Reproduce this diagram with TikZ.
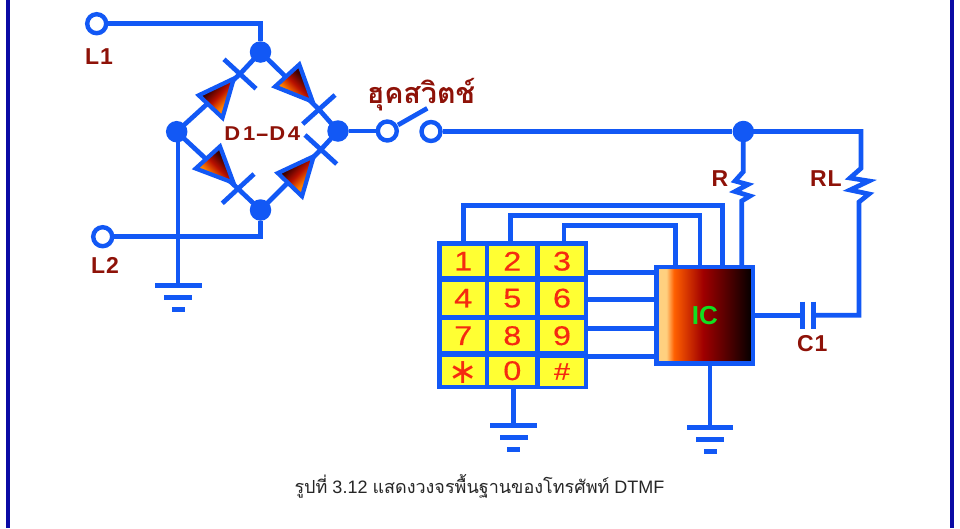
\documentclass[tikz,border=0pt]{standalone}
\usepackage{fontspec}
\setmainfont{Liberation Sans}
\newfontfamily\thaifont[Script=Thai]{Loma}
\newfontfamily\dejavu{DejaVu Sans}
\newfontfamily\keyfont[FakeStretch=1.2,FakeBold=0.4]{Liberation Sans}
\newfontfamily\dlabel[FakeStretch=1.1,LetterSpace=14]{Liberation Sans}
\newfontfamily\labfont[LetterSpace=4]{Liberation Sans}
\usetikzlibrary{calc}
\definecolor{wire}{HTML}{1258F5}
\definecolor{lbl}{HTML}{8E1208}
\definecolor{keyy}{HTML}{FFFF33}
\definecolor{keyt}{HTML}{F52A10}
\definecolor{frameblue}{HTML}{0A0AA5}
\definecolor{icA}{HTML}{FFD080}
\definecolor{icB}{HTML}{FF6000}
\definecolor{icC}{HTML}{A00000}
\definecolor{icD}{HTML}{500000}
\definecolor{icE}{HTML}{000000}
\definecolor{icT}{HTML}{10E020}
\definecolor{dioA}{HTML}{3C0000}
\definecolor{dioB}{HTML}{B81000}
\definecolor{dioC}{HTML}{FF8000}
\pgfdeclarehorizontalshading{icgrad}{100bp}{color(0bp)=(icA); color(25bp)=(icA); color(30bp)=(icA); color(34bp)=(icB); color(49bp)=(icC); color(62bp)=(icD); color(75bp)=(icE); color(100bp)=(icE)}
\pgfdeclareverticalshading{diograd}{100bp}{color(0bp)=(dioC); color(36bp)=(dioC); color(50bp)=(dioB); color(64bp)=(dioA); color(100bp)=(dioA)}
\tikzset{x=1pt,y=-1pt,
 wirel/.style={draw=wire,line width=4.7pt,line join=miter},
 dotn/.style={circle,fill=wire,inner sep=0pt,minimum size=21.5pt},
 term/.style={circle,draw=wire,line width=4.4pt,fill=white,inner sep=0pt,minimum size=19pt},
 lab/.style={text=lbl,font=\labfont\bfseries\fontsize{23}{23}\selectfont,inner sep=0pt},
 keybox/.style={fill=keyy,text=keyt,inner sep=0pt,font=\keyfont\fontsize{27}{27}\selectfont},
 diobody/.style={draw=wire,line width=4.2pt,line join=miter,shading=diograd}}
\newcommand{\gndsym}[2]{%
 \fill[wire] (#1-23.3,#2-2.5) rectangle (#1+23.3,#2+2.5);
 \fill[wire] (#1-14,#2+9.5) rectangle (#1+14,#2+14.5);
 \fill[wire] (#1-6.5,#2+21.5) rectangle (#1+6.5,#2+26.5);}
\begin{document}
\begin{tikzpicture}
\useasboundingbox (0,0) rectangle (960,528);
\fill[white] (0,0) rectangle (960,528);
\fill[frameblue] (6,0) rectangle (10,528);
\fill[frameblue] (950,0) rectangle (954,528);
% nodes of the bridge
\node[dotn] (top) at (260.5,52) {};
\node[dotn] (bot) at (260.5,210) {};
\node[dotn] (lft) at (176.7,131.7) {};
\node[dotn] (rgt) at (338,131) {};
\node[dotn] (jr) at (743.3,131.5) {};
\coordinate (c1) at (240,74);
\coordinate (c2) at (319,109.5);
\coordinate (c3) at (238,188.7);
\coordinate (c4) at (321,149.5);
\coordinate (gl) at (178,285);
\coordinate (gk) at (513.7,425.7);
\coordinate (gi) at (710,427.3);
% terminals
\node[term] (l1) at (96.7,23.7) {};
\node[term] (l2) at (102.7,236.7) {};
\node[term] (s1) at (387.3,131) {};
\node[term] (s2) at (431,131.5) {};
% IC
\node[draw=wire,line width=4.7pt,shading=icgrad,minimum width=96.3pt,minimum height=96.7pt,inner sep=0pt,text=icT,font=\bfseries\fontsize{26}{26}\selectfont] (ic) at (704.8,315.3) {IC};
% keypad
\node[fill=wire,inner sep=0pt,outer sep=-1pt,minimum width=151.6pt,minimum height=148.6pt] (kp) at (512.5,315) {};
\node[keybox,minimum width=43pt,minimum height=30.3pt] (k1) at (463.2,261.2) {1};
\node[keybox,minimum width=46pt,minimum height=30.3pt] (k2) at (512.3,261.2) {2};
\node[keybox,minimum width=43.4pt,minimum height=30.3pt] (k3) at (562,261.2) {3};
\node[keybox,minimum width=43pt,minimum height=33pt] (k4) at (463.2,298.2) {4};
\node[keybox,minimum width=46pt,minimum height=33pt] (k5) at (512.3,298.2) {5};
\node[keybox,minimum width=43.4pt,minimum height=33pt] (k6) at (562,298.2) {6};
\node[keybox,minimum width=43pt,minimum height=31.3pt] (k7) at (463.2,335.7) {7};
\node[keybox,minimum width=46pt,minimum height=31.3pt] (k8) at (512.3,335.7) {8};
\node[keybox,minimum width=43.4pt,minimum height=31.3pt] (k9) at (562,335.7) {9};
\node[keybox,minimum width=43pt,minimum height=28pt] (ks) at (463.2,370.7) {};
\node[keybox,minimum width=46pt,minimum height=28pt] (k0) at (512.3,370.7) {0};
\node[keybox,minimum width=43.4pt,minimum height=28pt] (kh) at (562,371.5) {\fontsize{24}{24}\selectfont\#};
\node[text=keyt,inner sep=0pt,font=\dejavu\fontsize{35}{35}\selectfont] (kst) at (463.5,372.5) {∗};
% wires
\draw[wirel] (l1) -- (260.5,23.7) -- (top);
\draw[wirel] (l2) -- (260.5,236.7) -- (bot);
\draw[wirel] (178,131.7) -- (gl);
\draw[wirel] (rgt) -- (s1);
\draw[wirel] (s2) -- (jr);
\draw[wirel] (jr.center) -- (861,131.5) -- (861,168.3) -- (850,178) -- (869,181) -- (850,190) -- (869,194) -- (859,202) -- (859,315.3) -- (813.7,315.3);
\draw[wirel] (ic.east) -- (802.7,315.3);
\draw[wirel] (802.7,301.7) -- (802.7,329);
\draw[wirel] (813.7,301.7) -- (813.7,329);
\draw[wirel] (398,125) -- (427.3,108.3);
\draw[wirel] (lft.center) -- (c1) -- (top.center);
\draw[wirel] (top.center) -- (c2) -- (rgt.center);
\draw[wirel] (lft.center) -- (c3) -- (bot.center);
\draw[wirel] (bot.center) -- (c4) -- (rgt.center);
\draw[wirel] (jr.center) -- (743.3,171.7) -- (735,181) -- (748,184.5) -- (735,191.5) -- (750,196) -- (741.7,201) -- (741.7,265);
\draw[wirel] (463.3,241) -- (463.3,205.7) -- (722.7,205.7) -- (722.7,265);
\draw[wirel] (510.7,241) -- (510.7,215.7) -- (700,215.7) -- (700,265);
\draw[wirel] (564,241) -- (564,225.3) -- (675.3,225.3) -- (675.3,265);
\draw[wirel] (kp.east |- 0,272.3) -- (ic.west |- 0,272.3);
\draw[wirel] (kp.east |- 0,299.7) -- (ic.west |- 0,299.7);
\draw[wirel] (kp.east |- 0,328.3) -- (ic.west |- 0,328.3);
\draw[wirel] (kp.east |- 0,356.3) -- (ic.west |- 0,356.3);
\draw[wirel] (kp.south -| gk) -- (gk);
\draw[wirel] (ic.south -| gi) -- (gi);
% cathode bars
\draw[wirel] (224,59.3) -- (256,88.7);
\draw[wirel] (335,95) -- (302.7,124);
\draw[wirel] (254,174) -- (222.3,203.3);
\draw[wirel] (305,135) -- (336.7,164);
% diodes
\path[diobody,shading angle=45] (233.8,78.6) -- (198.7,95.3) -- (222.5,117.8) -- cycle;
\path[diobody,shading angle=-45] (312.7,101.7) -- (299.3,64.5) -- (275,86.6) -- cycle;
\path[diobody,shading angle=-45] (233.5,182.8) -- (220,146.4) -- (195.7,168.5) -- cycle;
\path[diobody,shading angle=45] (313.7,156.3) -- (277.8,173.1) -- (302,196.3) -- cycle;
% grounds
\gndsym{178.3}{285}
\gndsym{513.5}{425.7}
\gndsym{710}{427.3}
% labels
\node[lab] (tl1) at (99,56.7) {L1};
\node[lab] (tl2) at (105,265.7) {L2};
\node[lab] (tr) at (720,178.3) {R};
\node[lab] (trl) at (826,178.3) {RL};
\node[lab] (tc1) at (812.3,343.3) {C1};
\node[text=lbl,inner sep=0pt,font=\dlabel\bfseries\fontsize{20}{20}\selectfont] (td) at (262.3,133.3) {D1\scalebox{1.9}[1]{-}D4};
\node[text=lbl,inner sep=0pt,anchor=base,font=\thaifont\bfseries\fontsize{28.7}{28.7}\selectfont] (tsw) at (421,103) {ฮุคสวิตช์};
\node[text=black!85,inner sep=0pt,font=\fontsize{18}{18}\selectfont] (cap) at (479.5,486.5) {{\thaifont รูปที่} 3.12 {\thaifont แสดงวงจรพื้นฐานของโทรศัพท์} DTMF};
\end{tikzpicture}
\end{document}
